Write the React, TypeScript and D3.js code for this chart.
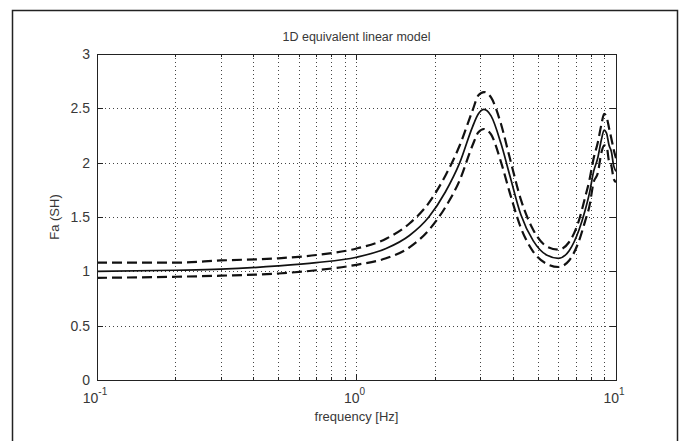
import { useEffect, useRef } from "react";
import * as d3 from "d3";

// values (Fa vs frequency, log x)
const freqs = [0.1, 0.2, 0.3, 0.5, 0.7, 1.0, 1.3, 1.6, 1.9, 2.2, 2.5, 2.8, 2.95, 3.1, 3.3, 3.6, 3.9, 4.3, 4.8, 5.4, 6.0, 6.6, 7.2, 7.6, 7.9, 8.2, 8.5, 8.8, 9.0, 9.2, 9.4, 9.6, 9.8, 10];
const meanFa = [1.0, 1.01, 1.02, 1.05, 1.08, 1.13, 1.21, 1.33, 1.5, 1.73, 2.0, 2.33, 2.45, 2.49, 2.43, 2.18, 1.88, 1.52, 1.28, 1.15, 1.12, 1.19, 1.38, 1.56, 1.72, 1.92, 2.04, 2.22, 2.3, 2.27, 2.16, 2.1, 1.97, 1.92];
const upperFa = [1.08, 1.08, 1.1, 1.12, 1.15, 1.21, 1.3, 1.44, 1.63, 1.88, 2.16, 2.48, 2.62, 2.65, 2.6, 2.36, 2.04, 1.66, 1.38, 1.23, 1.2, 1.27, 1.47, 1.68, 1.84, 2.04, 2.18, 2.36, 2.45, 2.42, 2.32, 2.22, 2.12, 2.04];
const lowerFa = [0.94, 0.95, 0.96, 0.98, 1.01, 1.06, 1.12, 1.22, 1.38, 1.59, 1.84, 2.16, 2.28, 2.31, 2.26, 2.01, 1.72, 1.4, 1.18, 1.07, 1.04, 1.1, 1.28, 1.46, 1.6, 1.82, 1.9, 2.1, 2.16, 2.15, 2.01, 1.97, 1.85, 1.82];

const yTicks = [0, 0.5, 1, 1.5, 2, 2.5, 3];
const yTickLabels = ["0", "0.5", "1", "1.5", "2", "2.5", "3"];
const xDecades = [0.1, 1, 10];
const xDecadeExps = ["-1", "0", "1"];

export default function App() {
  const ref = useRef<SVGSVGElement | null>(null);

  useEffect(() => {
    const svg = d3.select(ref.current);
    svg.selectAll("*").remove();

    const width = 680;
    const height = 441;
    const m = { left: 97, right: 616, top: 54, bottom: 380 };
    const font = "'Liberation Sans', Arial, sans-serif";
    const txt = "#383838";

    const x = d3.scaleLog().domain([0.1, 10]).range([m.left, m.right]);
    const y = d3.scaleLinear().domain([0, 3]).range([m.bottom, m.top]);

    svg.append("rect").attr("width", width).attr("height", height).attr("fill", "#fff");
    // outer figure frame (bottom runs off the picture)
    svg.append("path").attr("d", `M12.5,${height + 2}V10.5H677.5V${height + 2}`)
      .attr("fill", "none").attr("stroke", "#222").attr("stroke-width", 1.5);

    // minor log positions
    const minors: number[] = [];
    [0.1, 1].forEach((d) => { for (let k = 2; k <= 9; k++) minors.push(d * k); });
    const xGrid = [...minors, 1];

    const grid = svg.append("g").attr("stroke", "#444").attr("stroke-width", 1).attr("stroke-dasharray", "1,3");
    grid.selectAll("line.vx").data(xGrid).join("line")
      .attr("x1", (d) => Math.round(x(d)) + 0.5).attr("x2", (d) => Math.round(x(d)) + 0.5)
      .attr("y1", m.top).attr("y2", m.bottom);
    grid.selectAll("line.hy").data(yTicks.slice(1, -1)).join("line")
      .attr("class", "hy")
      .attr("x1", m.left).attr("x2", m.right)
      .attr("y1", (d) => Math.round(y(d)) + 0.5).attr("y2", (d) => Math.round(y(d)) + 0.5);

    // ticks on all four sides (inward)
    const ticks = svg.append("g").attr("stroke", "#222").attr("stroke-width", 1);
    const xt = [...minors.map((v) => ({ v, len: 3 })), ...xDecades.map((v) => ({ v, len: 6 }))];
    xt.forEach((t) => {
      const px = Math.round(x(t.v)) + 0.5;
      ticks.append("line").attr("x1", px).attr("x2", px).attr("y1", m.bottom).attr("y2", m.bottom - t.len);
      ticks.append("line").attr("x1", px).attr("x2", px).attr("y1", m.top).attr("y2", m.top + t.len);
    });
    yTicks.forEach((v) => {
      const py = Math.round(y(v)) + 0.5;
      ticks.append("line").attr("x1", m.left).attr("x2", m.left + 6).attr("y1", py).attr("y2", py);
      ticks.append("line").attr("x1", m.right).attr("x2", m.right - 6).attr("y1", py).attr("y2", py);
    });

    // curves
    const line = d3.line<number>()
      .x((_, i) => x(freqs[i]))
      .y((d) => y(d))
      .curve(d3.curveMonotoneX);
    const curves = svg.append("g").attr("fill", "none").attr("stroke", "#111");
    curves.append("path").attr("d", line(upperFa)).attr("stroke-width", 2.2).attr("stroke-dasharray", "10,5");
    curves.append("path").attr("d", line(lowerFa)).attr("stroke-width", 2.2).attr("stroke-dasharray", "10,5");
    curves.append("path").attr("d", line(meanFa)).attr("stroke-width", 1.7);

    // axes box
    svg.append("rect").attr("x", m.left + 0.5).attr("y", m.top + 0.5)
      .attr("width", m.right - m.left).attr("height", m.bottom - m.top)
      .attr("fill", "none").attr("stroke", "#222").attr("stroke-width", 1);

    // y tick labels
    svg.append("g").selectAll("text").data(yTicks).join("text")
      .attr("x", m.left - 7).attr("y", (d) => y(d) + 5)
      .attr("text-anchor", "end").attr("font-family", font).attr("font-size", 14).attr("fill", txt)
      .text((_, i) => yTickLabels[i]);

    // x tick labels: 10 with superscript exponent
    const xl = svg.append("g").attr("font-family", font).attr("fill", txt);
    xDecades.forEach((v, i) => {
      const t = xl.append("text").attr("x", x(v) - 2).attr("y", m.bottom + 23).attr("text-anchor", "middle").attr("font-size", 14);
      t.append("tspan").text("10");
      t.append("tspan").attr("dy", -8).attr("font-size", 10).text(xDecadeExps[i]);
    });

    svg.append("text").attr("x", (m.left + m.right) / 2).attr("y", m.bottom + 41)
      .attr("text-anchor", "middle").attr("font-family", font).attr("font-size", 13).attr("fill", txt)
      .text("frequency [Hz]");

    svg.append("text").attr("transform", `translate(59,${(m.top + m.bottom) / 2}) rotate(-90)`)
      .attr("text-anchor", "middle").attr("font-family", font).attr("font-size", 13).attr("fill", txt)
      .text("Fa (SH)");

    svg.append("text").attr("x", (m.left + m.right) / 2).attr("y", 41)
      .attr("text-anchor", "middle").attr("font-family", font).attr("font-size", 12.5).attr("fill", txt)
      .text("1D equivalent linear model");
  }, []);

  return (
    <svg ref={ref} width={680} height={441} style={{ position: "absolute", left: 0, top: 0, display: "block" }} />
  );
}
